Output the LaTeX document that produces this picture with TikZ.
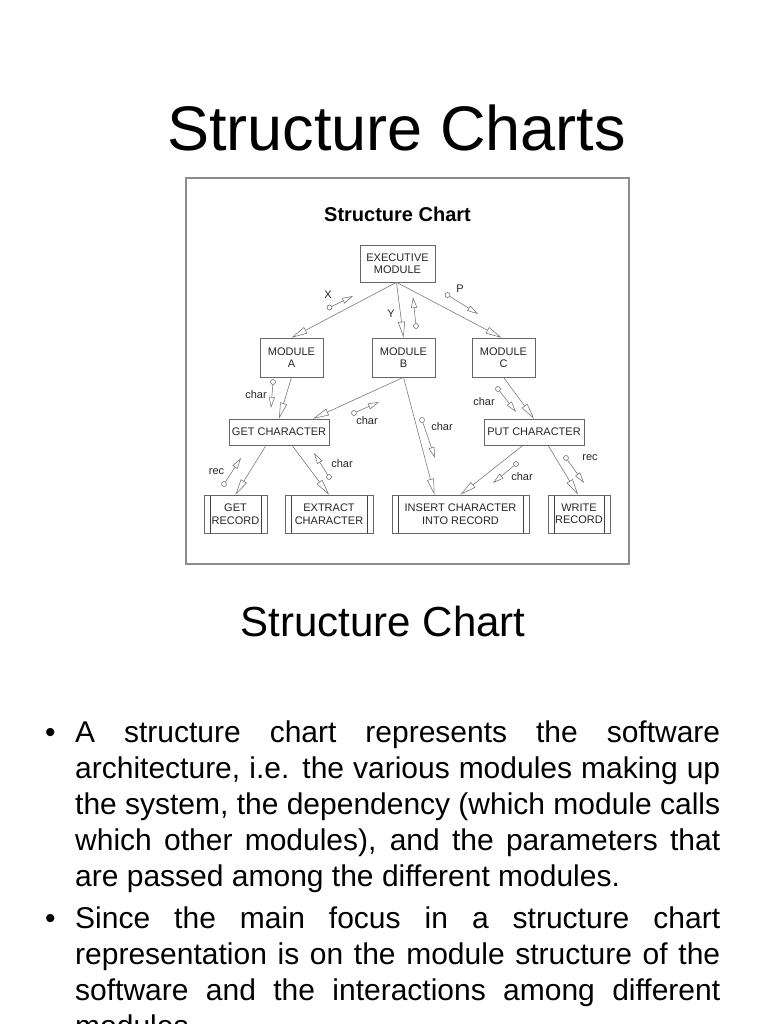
\documentclass[tikz,border=0pt]{standalone}
\usepackage{fontspec}
\setmainfont{Liberation Sans}
\usetikzlibrary{arrows.meta,calc}
\tikzset{
  modbox/.style={draw=black!60, line width=0.6pt, rectangle, inner sep=0pt, align=center,
    font=\fontsize{11}{12.5}\selectfont, text=black!85},
  libbox/.style={modbox, path picture={
      \draw[black!75, line width=0.6pt] ([xshift=6pt]path picture bounding box.north west) -- ([xshift=6pt]path picture bounding box.south west);
      \draw[black!75, line width=0.6pt] ([xshift=-6pt]path picture bounding box.north east) -- ([xshift=-6pt]path picture bounding box.south east);}},
  callarrow/.style={draw=black!55, line width=0.55pt, -{Triangle[open,length=16pt,width=7pt]}},
  couplearrow/.style={draw=black!55, line width=0.55pt, -{Triangle[open,length=11pt,width=6pt]}},
  couplecirc/.style={draw=black!60, line width=0.55pt, circle, inner sep=0pt, minimum size=5pt},
  lbl/.style={font=\fontsize{11}{12}\selectfont, text=black!85, inner sep=0pt},
}
\newcommand{\bodyline}[1]{\makebox[645pt][s]{#1}}
\begin{document}
\begin{tikzpicture}[x=1pt,y=-1pt]
\useasboundingbox (0,0) rectangle (768,1024);
\clip (0,0) rectangle (768,1024);
\fill[white] (0,0) rectangle (768,1024);

% slide title
\node[anchor=base, inner sep=0pt, font=\fontsize{63}{70}\selectfont] (title) at (396.7,151) {Structure Charts};

% picture frame
\draw[black!45, line width=1.3pt] (186,178) rectangle (629,564);
\node[anchor=base, inner sep=0pt, font=\fontsize{20}{22}\selectfont\bfseries] (ctitle) at (397.5,222) {Structure Chart};

% modules
\node[modbox, minimum width=75pt, minimum height=37pt] (exec) at (397.5,263.5) {EXECUTIVE\\MODULE};
\node[modbox, minimum width=63pt, minimum height=39pt] (moda) at (291.5,357.5) {MODULE\\A};
\node[modbox, minimum width=63pt, minimum height=39pt] (modb) at (403.5,357.5) {MODULE\\B};
\node[modbox, minimum width=63pt, minimum height=39pt] (modc) at (503.5,357.5) {MODULE\\C};
\node[modbox, minimum width=100pt, minimum height=26pt] (getch) at (279,432) {GET CHARACTER};
\node[modbox, minimum width=100pt, minimum height=26pt] (putch) at (534,432) {PUT CHARACTER};
\node[libbox, minimum width=63pt, minimum height=38pt] (getrec) at (235.5,514) {GET\\RECORD};
\node[libbox, minimum width=88pt, minimum height=38pt] (extr) at (329,514) {EXTRACT\\CHARACTER};
\node[libbox, minimum width=137pt, minimum height=38pt] (ins) at (460.5,514) {INSERT CHARACTER\\INTO RECORD};
\node[libbox, minimum width=62pt, minimum height=38pt] (write) at (579,514) {WRITE\\RECORD};

% calls
\draw[callarrow] ([xshift=-1pt]exec.south) -- (moda.north);
\draw[callarrow] ([xshift=-1pt]exec.south) -- (modb.north);
\draw[callarrow] ([xshift=-1pt]exec.south) -- ([xshift=-2pt]modc.north);
\draw[callarrow] (moda.south) -- (getch.north);
\draw[callarrow] (modb.south) -- ([xshift=34pt]getch.north);
\draw[callarrow] (modb.south) -- ([xshift=-26pt]ins.north);
\draw[callarrow] (modc.south) -- (putch.north);
\draw[callarrow] ([xshift=-13pt]getch.south) -- (getrec.north);
\draw[callarrow] ([xshift=13pt]getch.south) -- (extr.north);
\draw[callarrow] ([xshift=-11pt]putch.south) -- (ins.north);
\draw[callarrow] ([xshift=14pt]putch.south) -- ([xshift=-1pt]write.north);

% couples
\node[couplecirc] (cX) at (329.5,307.5) {};
\coordinate (tX) at (353,296);
\draw[couplearrow] (cX) -- (tX);
\node[lbl] (lX) at (328,295) {X};

\node[couplecirc] (cY) at (416,326) {};
\coordinate (tY) at (413,297);
\draw[couplearrow] (cY) -- (tY);
\node[lbl] (lY) at (391,314) {Y};

\node[couplecirc] (cP) at (447.5,295) {};
\coordinate (tP) at (478,314);
\draw[couplearrow] (cP) -- (tP);
\node[lbl] (lP) at (460,289) {P};

\node[couplecirc] (cA) at (273,382) {};
\coordinate (tA) at (271,408);
\draw[couplearrow] (cA) -- (tA);
\node[lbl] (lA) at (256,395) {char};

\node[couplecirc] (cB1) at (354,413) {};
\coordinate (tB1) at (379,402);
\draw[couplearrow] (cB1) -- (tB1);
\node[lbl] (lB1) at (367,421) {char};

\node[couplecirc] (cB2) at (422,420) {};
\coordinate (tB2) at (435,458);
\draw[couplearrow] (cB2) -- (tB2);
\node[lbl] (lB2) at (442,427) {char};

\node[couplecirc] (cC) at (498,389) {};
\coordinate (tC) at (516,412);
\draw[couplearrow] (cC) -- (tC);
\node[lbl] (lC) at (484,402) {char};

\node[couplecirc] (cR1) at (224,484) {};
\coordinate (tR1) at (241,458);
\draw[couplearrow] (cR1) -- (tR1);
\node[lbl] (lR1) at (216.5,472) {rec};

\node[couplecirc] (cE) at (329,477) {};
\coordinate (tE) at (314,453);
\draw[couplearrow] (cE) -- (tE);
\node[lbl] (lE) at (342,464) {char};

\node[couplecirc] (cPc) at (516,464) {};
\coordinate (tPc) at (493,483);
\draw[couplearrow] (cPc) -- (tPc);
\node[lbl] (lPc) at (522,477) {char};

\node[couplecirc] (cR2) at (566,458) {};
\coordinate (tR2) at (584,483);
\draw[couplearrow] (cR2) -- (tR2);
\node[lbl] (lR2) at (590,458) {rec};

% caption
\node[anchor=base, inner sep=0pt, font=\fontsize{42}{48}\selectfont] (caption) at (383.3,636) {Structure Chart};

% body text
\node[anchor=north west, inner sep=0pt, align=left, font=\fontsize{30}{36}\selectfont] (body) at (45,721) {%
\makebox[30pt][l]{\textbullet}\bodyline{A structure chart represents the software}\\
\hspace*{30pt}\bodyline{architecture, i.e. the various modules making up}\\
\hspace*{30pt}\bodyline{the system, the dependency (which module calls}\\
\hspace*{30pt}\bodyline{which other modules), and the parameters that}\\
\hspace*{30pt}are passed among the different modules.\\[6pt]
\makebox[30pt][l]{\textbullet}\bodyline{Since the main focus in a structure chart}\\
\hspace*{30pt}\bodyline{representation is on the module structure of the}\\
\hspace*{30pt}\bodyline{software and the interactions among different}\\
\hspace*{30pt}modules.};
\end{tikzpicture}
\end{document}
